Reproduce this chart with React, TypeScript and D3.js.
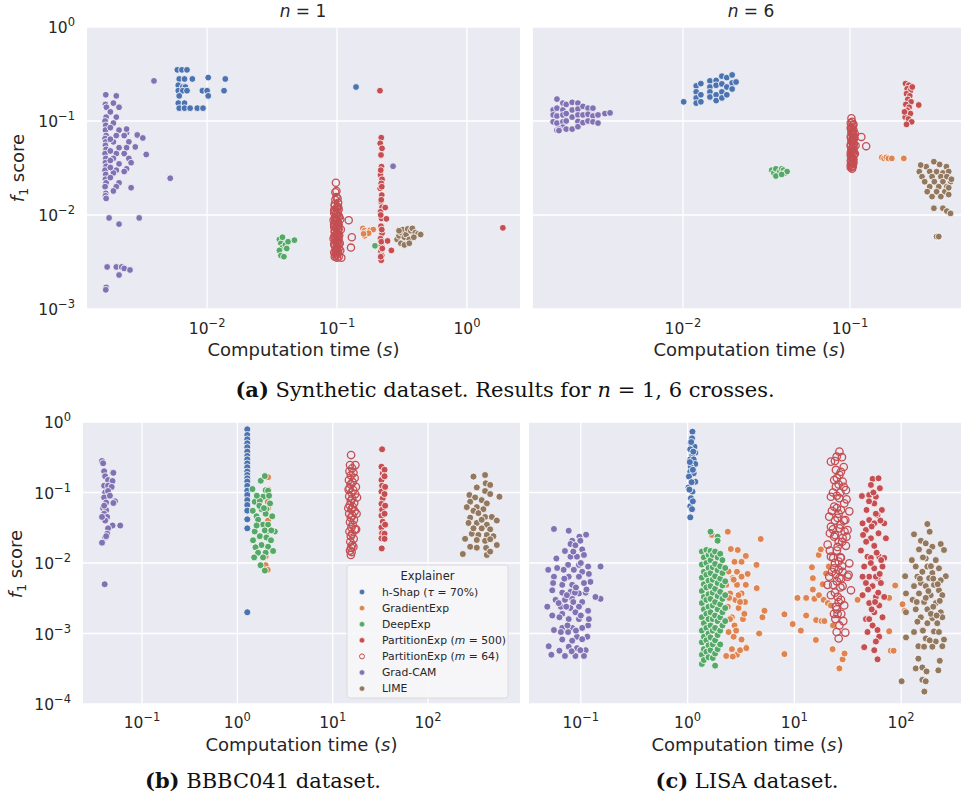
import React from "react";
import * as d3 from "d3";

type Pt = [number, number]; // [computation time (s), f1 score]

// ---------- colours ----------
const BLUE = "#4C72B0";
const ORANGE = "#DD8452";
const GREEN = "#55A868";
const RED = "#C44E52";
const PURPLE = "#8172B3";
const BROWN = "#937860";

const LEGEND_LABELS = [
  "h-Shap (τ = 70%)",
  "GradientExp",
  "DeepExp",
  "PartitionExp (m = 500)",
  "PartitionExp (m = 64)",
  "Grad-CAM",
  "LIME",
];
const LEGEND_COLORS = [BLUE, ORANGE, GREEN, RED, RED, PURPLE, BROWN];
const LEGEND_HOLLOW = [false, false, false, false, true, false, false];

// ---------- (a) synthetic, n = 1 ----------
const synth1HShap: Pt[] = [
  [0.0059, 0.35], [0.0064, 0.35], [0.007, 0.35], [0.0061, 0.28], [0.0067, 0.28], [0.0077, 0.28],
  [0.0102, 0.29], [0.0138, 0.28], [0.006, 0.24], [0.0065, 0.23], [0.0068, 0.23], [0.006, 0.21],
  [0.0065, 0.21], [0.007, 0.21], [0.0092, 0.21], [0.01, 0.21], [0.0135, 0.21], [0.0061, 0.185],
  [0.0102, 0.185], [0.006, 0.155], [0.0067, 0.155], [0.0061, 0.137], [0.0067, 0.137],
  [0.0074, 0.137], [0.0084, 0.137], [0.0093, 0.137], [0.14, 0.23],
];
const synth1Gradient: Pt[] = [
  [0.158, 0.0072], [0.163, 0.0068], [0.17, 0.0065], [0.18, 0.0069], [0.19, 0.007],
  [0.163, 0.006], [0.175, 0.0064], [0.16, 0.0063],
];
const synth1Deep: Pt[] = [
  [0.036, 0.0055], [0.037, 0.005], [0.038, 0.0045], [0.036, 0.0042], [0.037, 0.0037],
  [0.039, 0.0036], [0.04, 0.0048], [0.042, 0.0052], [0.047, 0.0054], [0.038, 0.0058],
  [0.041, 0.0044], [0.196, 0.0047],
];
const synth1Part500: Pt[] = [
  [0.219, 0.0665], [0.215, 0.0579], [0.222, 0.0512], [0.218, 0.0435], [0.22, 0.0327],
  [0.216, 0.0267], [0.222, 0.024], [0.219, 0.0217], [0.215, 0.0192], [0.221, 0.0163],
  [0.218, 0.0139], [0.222, 0.0121], [0.216, 0.0108], [0.22, 0.0092], [0.218, 0.0076],
  [0.222, 0.0064], [0.216, 0.0056], [0.22, 0.0047], [0.218, 0.0041], [0.221, 0.0037],
  [0.219, 0.0033], [0.217, 0.03], [0.221, 0.02], [0.219, 0.0145], [0.217, 0.01],
  [0.221, 0.007], [0.219, 0.0052], [0.223, 0.0044], [0.217, 0.0036], [0.24, 0.0091],
  [0.245, 0.0053], [0.262, 0.0042], [0.235, 0.012], [0.214, 0.21], [1.89, 0.0073],
];
const synth1Part64: Pt[] = [
  [0.098, 0.022], [0.097, 0.0175], [0.099, 0.018], [0.101, 0.015], [0.096, 0.013], [0.1, 0.012],
  [0.103, 0.0115], [0.097, 0.011], [0.095, 0.0105], [0.1, 0.01], [0.104, 0.0095], [0.098, 0.009],
  [0.094, 0.0088], [0.101, 0.0085], [0.097, 0.008], [0.103, 0.0078], [0.095, 0.0075],
  [0.099, 0.0072], [0.102, 0.0069], [0.096, 0.0066], [0.1, 0.0063], [0.104, 0.0061],
  [0.097, 0.0058], [0.094, 0.0056], [0.101, 0.0054], [0.099, 0.0051], [0.103, 0.0049],
  [0.096, 0.0047], [0.1, 0.0045], [0.098, 0.0043], [0.102, 0.0041], [0.095, 0.004],
  [0.1, 0.0038], [0.097, 0.0037], [0.103, 0.0036], [0.108, 0.0035], [0.106, 0.0042],
  [0.105, 0.005], [0.107, 0.007], [0.106, 0.009], [0.123, 0.0088], [0.13, 0.0058], [0.128, 0.0045],
  [0.096, 0.0125], [0.102, 0.0122], [0.099, 0.0118], [0.095, 0.0112], [0.101, 0.0108],
  [0.098, 0.0102], [0.103, 0.0098], [0.096, 0.0093], [0.1, 0.0089], [0.097, 0.0086],
  [0.102, 0.0082], [0.095, 0.0079], [0.101, 0.0076], [0.098, 0.0073], [0.103, 0.0071],
  [0.096, 0.0068], [0.1, 0.0065], [0.098, 0.0062], [0.102, 0.006], [0.095, 0.0059],
  [0.099, 0.0057], [0.103, 0.0055], [0.097, 0.0053], [0.101, 0.005], [0.095, 0.0049],
  [0.099, 0.0046], [0.103, 0.0044], [0.097, 0.0042], [0.101, 0.004], [0.098, 0.0039],
  [0.096, 0.0036], [0.1, 0.0035], [0.099, 0.0155], [0.097, 0.0145], [0.102, 0.0135],
];
const synth1GradCam: Pt[] = [
  [0.00166, 0.19], [0.00165, 0.15], [0.00167, 0.11], [0.00164, 0.1], [0.00166, 0.09],
  [0.00165, 0.08], [0.00167, 0.07], [0.00164, 0.065], [0.00166, 0.06], [0.00165, 0.055],
  [0.00167, 0.05], [0.00164, 0.045], [0.00166, 0.04], [0.00165, 0.036], [0.00167, 0.033],
  [0.00164, 0.03], [0.00166, 0.027], [0.00165, 0.024], [0.00167, 0.022], [0.00164, 0.02],
  [0.00166, 0.017], [0.00165, 0.016], [0.00167, 0.015], [0.00168, 0.14],
  [0.002, 0.185], [0.0019, 0.155], [0.0021, 0.14], [0.002, 0.11], [0.0019, 0.095], [0.0021, 0.08],
  [0.002, 0.07], [0.0019, 0.06], [0.0021, 0.052], [0.002, 0.045], [0.0019, 0.04], [0.0021, 0.035],
  [0.002, 0.03], [0.0019, 0.028], [0.0021, 0.022], [0.002, 0.02], [0.0019, 0.018],
  [0.0018, 0.125], [0.0018, 0.085], [0.0018, 0.064], [0.0018, 0.048], [0.0018, 0.038],
  [0.0018, 0.032], [0.0018, 0.025],
  [0.0024, 0.075], [0.0023, 0.07], [0.0025, 0.06], [0.0024, 0.052], [0.0023, 0.045],
  [0.0025, 0.04], [0.0024, 0.031], [0.0023, 0.029], [0.0029, 0.071], [0.0032, 0.066],
  [0.0028, 0.053], [0.0034, 0.044], [0.0026, 0.0195], [0.0024, 0.082], [0.0026, 0.036],
  [0.0039, 0.267], [0.0052, 0.0246], [0.27, 0.033],
  [0.00176, 0.0093], [0.003, 0.0093], [0.0021, 0.008], [0.0017, 0.0028], [0.002, 0.0028],
  [0.0022, 0.0028], [0.0023, 0.0027], [0.00255, 0.0026], [0.0021, 0.0023], [0.00167, 0.0017],
  [0.00166, 0.0016],
];
const synth1Lime: Pt[] = [
  [0.29, 0.0055], [0.3, 0.006], [0.31, 0.0065], [0.32, 0.007], [0.33, 0.0058], [0.34, 0.0062],
  [0.35, 0.0071], [0.36, 0.0055], [0.37, 0.0068], [0.38, 0.0072], [0.4, 0.0065], [0.42, 0.0063],
  [0.31, 0.005], [0.33, 0.0048], [0.36, 0.005], [0.39, 0.0058], [0.44, 0.0062], [0.3, 0.0068],
];

// ---------- (a) synthetic, n = 6 ----------
const synth6HShap: Pt[] = [
  [0.0101, 0.16], [0.012, 0.236], [0.012, 0.204], [0.012, 0.176], [0.012, 0.155],
  [0.0128, 0.25], [0.0128, 0.19], [0.0128, 0.16], [0.0145, 0.267], [0.0145, 0.23], [0.0145, 0.204],
  [0.0145, 0.18], [0.0158, 0.27], [0.0158, 0.24], [0.0158, 0.19], [0.0158, 0.165], [0.0171, 0.3],
  [0.0171, 0.248], [0.0171, 0.204], [0.0171, 0.176], [0.0183, 0.29], [0.0183, 0.23], [0.0183, 0.19],
  [0.0197, 0.309], [0.0197, 0.254], [0.0197, 0.219], [0.0208, 0.26],
];
const synth6Gradient: Pt[] = [
  [0.155, 0.041], [0.16, 0.04], [0.165, 0.041], [0.17, 0.04], [0.178, 0.04], [0.21, 0.04],
];
const synth6Deep: Pt[] = [
  [0.034, 0.03], [0.035, 0.028], [0.036, 0.031], [0.037, 0.027], [0.038, 0.029], [0.039, 0.031],
  [0.04, 0.03], [0.041, 0.028], [0.042, 0.029], [0.036, 0.026], [0.039, 0.027],
];
const synth6Part500: Pt[] = [
  [0.215, 0.25], [0.225, 0.24], [0.22, 0.22], [0.23, 0.21], [0.218, 0.195], [0.228, 0.185],
  [0.222, 0.17], [0.232, 0.16], [0.216, 0.15], [0.226, 0.14], [0.22, 0.13], [0.23, 0.12],
  [0.214, 0.11], [0.224, 0.105], [0.234, 0.098], [0.218, 0.092], [0.236, 0.23], [0.212, 0.125],
  [0.258, 0.148],
];
const synth6Part64: Pt[] = [
  [0.102, 0.107], [0.101, 0.095], [0.104, 0.09], [0.101, 0.085], [0.105, 0.08], [0.102, 0.076],
  [0.104, 0.072], [0.101, 0.068], [0.106, 0.065], [0.102, 0.062], [0.104, 0.059], [0.101, 0.056],
  [0.105, 0.053], [0.102, 0.05], [0.104, 0.048], [0.101, 0.046], [0.106, 0.044], [0.102, 0.042],
  [0.104, 0.04], [0.101, 0.038], [0.105, 0.036], [0.102, 0.035], [0.104, 0.033], [0.101, 0.032],
  [0.103, 0.031], [0.117, 0.0677], [0.125, 0.054], [0.107, 0.073], [0.108, 0.055], [0.107, 0.045],
  [0.103, 0.098], [0.105, 0.092], [0.103, 0.086], [0.1015, 0.082], [0.104, 0.078], [0.1025, 0.074],
  [0.1055, 0.07], [0.1015, 0.066], [0.104, 0.063], [0.1025, 0.06], [0.1055, 0.057], [0.101, 0.054],
  [0.103, 0.052], [0.105, 0.049], [0.102, 0.047], [0.104, 0.045], [0.101, 0.043], [0.103, 0.041],
  [0.105, 0.039], [0.102, 0.037], [0.104, 0.0355], [0.101, 0.034], [0.103, 0.0325],
];
const synth6GradCam: Pt[] = [
  [0.00167, 0.131], [0.00167, 0.116], [0.00167, 0.098], [0.00176, 0.171], [0.00176, 0.137],
  [0.00176, 0.113], [0.00176, 0.095], [0.00176, 0.08], [0.00191, 0.155], [0.00191, 0.131],
  [0.00191, 0.116], [0.00191, 0.098], [0.00191, 0.086], [0.002, 0.15], [0.002, 0.12], [0.002, 0.1],
  [0.002, 0.082], [0.00217, 0.158], [0.00217, 0.131], [0.00217, 0.11], [0.00217, 0.082],
  [0.00235, 0.155], [0.00235, 0.134], [0.00235, 0.116], [0.00235, 0.099], [0.00235, 0.087],
  [0.00252, 0.143], [0.00252, 0.116], [0.00252, 0.096], [0.0027, 0.137], [0.0027, 0.118],
  [0.0027, 0.1], [0.00289, 0.137], [0.00289, 0.113], [0.00289, 0.098], [0.0031, 0.116],
  [0.0031, 0.095], [0.00341, 0.12], [0.00366, 0.122], [0.00181, 0.082], [0.00181, 0.079],
];
const synth6Lime: Pt[] = [
  [0.318, 0.0369], [0.344, 0.0345], [0.378, 0.0327], [0.286, 0.0327], [0.26, 0.0289], [0.3, 0.029],
  [0.33, 0.0289], [0.36, 0.028], [0.39, 0.029], [0.27, 0.0256], [0.31, 0.0256], [0.35, 0.0256],
  [0.38, 0.0256], [0.28, 0.0226], [0.32, 0.0226], [0.36, 0.0226], [0.4, 0.0226], [0.3, 0.02],
  [0.34, 0.02], [0.38, 0.02], [0.29, 0.0177], [0.33, 0.0177], [0.37, 0.0177], [0.31, 0.0157],
  [0.35, 0.0157], [0.39, 0.0165], [0.318, 0.0118], [0.36, 0.0118], [0.38, 0.011], [0.4, 0.0104],
  [0.33, 0.0059], [0.34, 0.0059], [0.265, 0.034], [0.39, 0.0195], [0.405, 0.024],
];

// ---------- (b) BBBC041 ----------
const bbbcHShap: Pt[] = [
  [1.27, 0.787], [1.27, 0.654], [1.27, 0.568], [1.27, 0.499], [1.27, 0.438], [1.27, 0.38],
  [1.27, 0.33], [1.27, 0.295], [1.27, 0.259], [1.27, 0.228], [1.27, 0.198], [1.27, 0.177],
  [1.27, 0.159], [1.27, 0.143], [1.27, 0.124], [1.27, 0.106], [1.27, 0.092], [1.27, 0.078],
  [1.27, 0.0665], [1.27, 0.0553], [1.27, 0.0416], [1.27, 0.031], [1.27, 0.002],
];
const bbbcGradient: Pt[] = [
  [2.1, 0.165], [2.08, 0.074], [2.1, 0.06], [2.1, 0.04], [1.98, 0.0125], [1.98, 0.0093],
  [2.08, 0.008], [2.12, 0.11], [2.05, 0.028],
];
const bbbcDeep: Pt[] = [
  [1.76, 0.147], [1.94, 0.171], [1.98, 0.108], [1.44, 0.112], [2.1, 0.106], [1.86, 0.087],
  [1.52, 0.074], [1.72, 0.076], [2.02, 0.058], [1.45, 0.055], [1.79, 0.058], [1.59, 0.046],
  [1.98, 0.05], [2.32, 0.046], [1.65, 0.041], [1.86, 0.035], [2.1, 0.035], [1.52, 0.028],
  [1.94, 0.029], [2.47, 0.028], [1.72, 0.024], [2.02, 0.023], [1.46, 0.021], [1.79, 0.018],
  [2.1, 0.017], [1.55, 0.0167], [1.65, 0.014], [1.98, 0.014], [2.37, 0.0148], [1.86, 0.012],
  [1.75, 0.0093], [1.94, 0.0078], [2.27, 0.029], [1.59, 0.034], [1.7, 0.065], [2.2, 0.07],
  [1.6, 0.09], [2.15, 0.09], [1.9, 0.06], [2.25, 0.021], [1.5, 0.012],
];
const bbbcPart500: Pt[] = [
  [33, 0.41], [32.5, 0.232], [33.5, 0.187], [32.5, 0.15], [33, 0.125], [32.5, 0.103],
  [33.5, 0.083], [32.5, 0.069], [33, 0.057], [32.5, 0.047], [33.5, 0.0385], [32.5, 0.032],
  [33, 0.0264], [32.5, 0.0224], [32.7, 0.0161], [35, 0.21], [35, 0.17], [35.5, 0.12],
  [35, 0.095], [35.5, 0.065], [35, 0.05], [35.5, 0.035], [35, 0.026], [35, 0.022],
];
const bbbcPart64: Pt[] = [
  [15.6, 0.34], [17.3, 0.245], [15.2, 0.245], [16, 0.22], [15, 0.2], [16.5, 0.19], [15.5, 0.175],
  [17, 0.16], [14.8, 0.15], [16.2, 0.14], [15.4, 0.13], [17.5, 0.12], [15, 0.115], [16.4, 0.108],
  [15.7, 0.1], [17.2, 0.095], [14.9, 0.088], [16, 0.082], [15.5, 0.076], [16.8, 0.071],
  [15.1, 0.066], [16.3, 0.062], [15.8, 0.058], [17, 0.054], [14.9, 0.05], [16.1, 0.047],
  [15.5, 0.044], [16.7, 0.041], [15.2, 0.038], [16.2, 0.035], [15.7, 0.032], [17.1, 0.03],
  [15, 0.028], [16, 0.026], [15.5, 0.024], [16.6, 0.022], [15.3, 0.02], [16, 0.018],
  [15.6, 0.0165], [15.2, 0.015], [15.8, 0.0143], [15.5, 0.013], [18, 0.085], [17.8, 0.05],
  [14.6, 0.06], [14.7, 0.11], [17.6, 0.03], [16.5, 0.017],
];
const bbbcGradCam: Pt[] = [
  [0.038, 0.28], [0.039, 0.26], [0.04, 0.2], [0.049, 0.19], [0.041, 0.17], [0.044, 0.15],
  [0.049, 0.145], [0.04, 0.125], [0.044, 0.125], [0.048, 0.12], [0.041, 0.1], [0.044, 0.105],
  [0.052, 0.075], [0.04, 0.085], [0.042, 0.072], [0.039, 0.06], [0.042, 0.056], [0.04, 0.05],
  [0.043, 0.045], [0.049, 0.034], [0.059, 0.034], [0.041, 0.04], [0.044, 0.031], [0.043, 0.026],
  [0.041, 0.023], [0.038, 0.0194], [0.042, 0.024], [0.038, 0.045], [0.04, 0.065], [0.046, 0.09],
  [0.05, 0.071], [0.05, 0.19], [0.0405, 0.005],
];
const bbbcLime: Pt[] = [
  [300, 0.168], [397, 0.177], [403, 0.135], [449, 0.128], [325, 0.118], [397, 0.105], [449, 0.095],
  [562, 0.087], [272, 0.092], [312, 0.085], [366, 0.078], [277, 0.074], [414, 0.07], [255, 0.062],
  [325, 0.062], [381, 0.058], [300, 0.055], [338, 0.051], [277, 0.044], [397, 0.045], [467, 0.045],
  [527, 0.04], [266, 0.037], [325, 0.037], [414, 0.035], [366, 0.031], [449, 0.03], [288, 0.026],
  [338, 0.025], [414, 0.025], [486, 0.024], [245, 0.022], [325, 0.0212], [397, 0.0206],
  [449, 0.0217], [277, 0.017], [325, 0.0165], [407, 0.0164], [527, 0.018], [232, 0.0134],
  [414, 0.013], [449, 0.0145], [300, 0.031], [366, 0.041],
];

// ---------- (c) LISA ----------
const lisaHShap: Pt[] = [
  [1.11, 0.73], [1.1, 0.586], [1.075, 0.498], [1.16, 0.447], [1.06, 0.41], [1.18, 0.367],
  [1.1, 0.33], [1.06, 0.295], [1.14, 0.295], [1.18, 0.254], [1.07, 0.232], [1.06, 0.197],
  [1.14, 0.188], [1.03, 0.168], [1.18, 0.142], [1.02, 0.118], [1.11, 0.103], [1.075, 0.083],
  [1.06, 0.064], [1.1, 0.058], [1.06, 0.0444], [1.12, 0.21], [1.09, 0.14], [1.05, 0.27],
  [1.13, 0.38], [1.08, 0.52], [1.04, 0.11], [1.12, 0.075],
];
const lisaGradient: Pt[] = [
  [2.38, 0.0278], [4.84, 0.0219], [1.69, 0.025], [2.54, 0.0158], [2.95, 0.0153], [3.51, 0.0126],
  [2.75, 0.0104], [3.2, 0.0104], [4.42, 0.0094], [2.42, 0.0076], [2.9, 0.0075], [3.65, 0.007],
  [2.65, 0.0061], [3.2, 0.0064], [2.3, 0.0049], [2.9, 0.0049], [3.51, 0.0049], [4.44, 0.0044],
  [2.5, 0.0037], [3.2, 0.0037], [2.8, 0.003], [3.45, 0.0028], [2.38, 0.0024], [3, 0.0023],
  [5.25, 0.0021], [5.02, 0.0017], [2.6, 0.0017], [3.3, 0.0016], [2.75, 0.0013], [2.42, 0.00105],
  [2.7, 0.0009], [3.2, 0.00082], [4.68, 0.001], [3.55, 0.00064], [2.6, 0.0006], [2.9, 0.0005],
  [2.3, 0.00048], [3.1, 0.00058], [2.5, 0.0016], [3.1, 0.0028], [2.65, 0.00047], [3.55, 0.00062],
  [2.7, 0.0058], [3.0, 0.0035], [2.45, 0.0032], [3.4, 0.0019], [2.85, 0.0011],
  [8.07, 0.00187], [8.07, 0.00051], [9.64, 0.00136], [10.7, 0.0032], [11.5, 0.0011], [12.9, 0.0032],
  [12.9, 0.0018], [14.6, 0.0087], [14.9, 0.0061], [14.9, 0.0042], [15.4, 0.0031], [15.9, 0.00081],
  [16, 0.00155], [16.9, 0.013], [17, 0.0035], [17.7, 0.0156], [18, 0.0015], [18.4, 0.005],
  [18.8, 0.003], [19.1, 0.0015], [19.8, 0.0071], [20.6, 0.0027], [21, 0.0089], [22, 0.0025],
  [22.8, 0.0006], [23, 0.0013], [26.4, 0.00032], [28.3, 0.00043], [29.5, 0.00052], [39.1, 0.003],
  [77.3, 0.0032], [77.3, 0.00108], [80, 0.00057], [85, 0.00057], [88, 0.0048], [103, 0.0026],
  [108, 0.0021],
];
const lisaDeep: Pt[] = [
  [1.36, 0.0145], [1.36, 0.0095], [1.36, 0.0062], [1.36, 0.004], [1.36, 0.0027], [1.36, 0.0017],
  [1.36, 0.0011], [1.36, 0.00075], [1.36, 0.0005], [1.36, 0.00037],
  [1.42, 0.012], [1.42, 0.0075], [1.42, 0.005], [1.42, 0.0033], [1.42, 0.0022], [1.42, 0.0014],
  [1.42, 0.0009], [1.42, 0.0006], [1.42, 0.00042],
  [1.5, 0.0153], [1.5, 0.01], [1.5, 0.0068], [1.5, 0.0045], [1.5, 0.003], [1.5, 0.0019],
  [1.5, 0.0012], [1.5, 0.0008], [1.5, 0.00055],
  [1.57, 0.013], [1.57, 0.0085], [1.57, 0.0056], [1.57, 0.0036], [1.57, 0.0024], [1.57, 0.0016],
  [1.57, 0.001], [1.57, 0.00068], [1.57, 0.00046],
  [1.64, 0.0278], [1.64, 0.0148], [1.64, 0.011], [1.64, 0.0072], [1.64, 0.0047], [1.64, 0.0031],
  [1.64, 0.002], [1.64, 0.0013], [1.64, 0.00088], [1.64, 0.00058],
  [1.72, 0.013], [1.72, 0.0087], [1.72, 0.0058], [1.72, 0.0038], [1.72, 0.0025], [1.72, 0.0016],
  [1.72, 0.0011], [1.72, 0.0007], [1.72, 0.00045],
  [1.81, 0.0145], [1.81, 0.0097], [1.81, 0.0065], [1.81, 0.0043], [1.81, 0.0028], [1.81, 0.0018],
  [1.81, 0.0012], [1.81, 0.0008], [1.81, 0.00052], [1.81, 0.00035],
  [1.91, 0.0236], [1.91, 0.0207], [1.91, 0.012], [1.91, 0.0079], [1.91, 0.0052], [1.91, 0.0034],
  [1.91, 0.0022], [1.91, 0.0015], [1.91, 0.00095], [1.91, 0.0006],
  [2.02, 0.0135], [2.02, 0.009], [2.02, 0.006], [2.02, 0.0039], [2.02, 0.0026], [2.02, 0.0017],
  [2.02, 0.0011], [2.02, 0.0007],
  [2.12, 0.011], [2.12, 0.0072], [2.12, 0.0048], [2.12, 0.0031], [2.12, 0.002], [2.12, 0.0013],
  [2.25, 0.0085], [2.25, 0.0055], [2.25, 0.0035], [2.25, 0.0023], [2.25, 0.0015],
];
const lisaPart500: Pt[] = [
  [54, 0.156], [61.4, 0.159], [52.1, 0.128], [63.2, 0.115], [42.9, 0.089], [50.2, 0.092],
  [58, 0.087], [56, 0.07], [47.4, 0.0565], [66, 0.0565], [60.1, 0.048], [50.2, 0.0407],
  [43.5, 0.0365], [56, 0.0365], [69.4, 0.0365], [46.8, 0.0294], [61.4, 0.0264], [52.1, 0.0224],
  [72, 0.0224], [42, 0.015], [56, 0.0175], [48.4, 0.0123], [62.3, 0.0123], [69.4, 0.0118],
  [45.1, 0.0089], [56, 0.0084], [66.9, 0.0089], [50.2, 0.0064], [60.1, 0.0061], [46.8, 0.0052],
  [64.6, 0.0052], [54, 0.0047], [43.5, 0.0035], [58, 0.0033], [69.4, 0.0033], [50.2, 0.0027],
  [62.3, 0.0025], [56, 0.002], [46.8, 0.0016], [66.9, 0.0017], [54, 0.0013], [60.1, 0.00112],
  [48.4, 0.00105], [62.3, 0.0009], [45.1, 0.00064], [56, 0.00058], [58, 0.00077], [60.1, 0.00043],
  [50.2, 0.0016], [58, 0.0064], [43.5, 0.0064], [52.1, 0.0118], [55, 0.1], [50, 0.075],
  [58, 0.05], [53, 0.033], [64, 0.04], [47, 0.02], [59, 0.014], [52, 0.01], [63, 0.007],
  [49, 0.0042], [57, 0.0028], [53, 0.0022], [61, 0.0038], [65, 0.011], [44, 0.025],
];
const lisaPart64: Pt[] = [
  [26.4, 0.38], [24.9, 0.322], [27.9, 0.317], [22, 0.274], [27.3, 0.197], [26.4, 0.178],
  [23.6, 0.15], [28.3, 0.143], [24.5, 0.121], [30.4, 0.108], [22, 0.087], [26.4, 0.083],
  [30.8, 0.08], [23.6, 0.063], [27.3, 0.0565], [32.7, 0.054], [21.2, 0.0454], [25.4, 0.0436],
  [30, 0.0407], [22, 0.0327], [26.4, 0.031], [31.5, 0.0294], [23.6, 0.0236], [28.3, 0.0226],
  [20.5, 0.0182], [25.4, 0.0169], [30.4, 0.0175], [22, 0.0123], [27.3, 0.0118], [32.7, 0.0099],
  [23.6, 0.0084], [28.3, 0.0075], [21.2, 0.0064], [26.4, 0.0061], [31.5, 0.0064], [23.1, 0.0049],
  [28.3, 0.0047], [22, 0.0035], [27.3, 0.003], [24.5, 0.0024], [29.3, 0.0025], [25.4, 0.0019],
  [24.2, 0.0016], [28.7, 0.0015], [26.4, 0.0013], [24.9, 0.00105], [30, 0.00103], [26, 0.00085],
  [32.2, 0.0068], [33.9, 0.0041], [20.5, 0.0049], [23.1, 0.0118], [29.3, 0.07], [24.5, 0.209],
  [21.5, 0.0264], [30.8, 0.0236], [24, 0.04], [26, 0.05], [25, 0.06], [27, 0.035], [24, 0.025],
  [26, 0.02], [25, 0.015], [27, 0.012], [24, 0.01], [26, 0.008], [25, 0.0055], [27, 0.0045],
  [24, 0.0038], [26, 0.0028], [25, 0.0022], [28, 0.009], [23, 0.1], [26, 0.13], [25, 0.09],
  [29, 0.04], [23, 0.03], [28, 0.02], [24.5, 0.007], [27.5, 0.006], [25.5, 0.0033], [23.5, 0.0019],
  [27.5, 0.0019], [24, 0.28], [29, 0.23], [25, 0.16], [29, 0.12], [27, 0.1], [22.5, 0.055],
  [29.5, 0.028], [21.5, 0.015], [26, 0.0105], [22.5, 0.0075],
];
const lisaGradCam: Pt[] = [
  [0.056, 0.0304], [0.077, 0.0287], [0.112, 0.0252], [0.097, 0.0236], [0.083, 0.0207],
  [0.099, 0.0207], [0.08, 0.0186], [0.089, 0.0178], [0.071, 0.0148], [0.059, 0.0116],
  [0.103, 0.0156], [0.08, 0.0123], [0.092, 0.0123], [0.107, 0.013], [0.076, 0.0094], [0.096, 0.0094],
  [0.117, 0.0089], [0.153, 0.0089], [0.0495, 0.008], [0.069, 0.008], [0.086, 0.008], [0.103, 0.0075],
  [0.119, 0.007], [0.056, 0.0064], [0.077, 0.0064], [0.096, 0.0064], [0.123, 0.0054], [0.055, 0.0052],
  [0.067, 0.0049], [0.083, 0.0049], [0.107, 0.0052], [0.054, 0.0041], [0.067, 0.0038], [0.08, 0.0039],
  [0.096, 0.0037], [0.111, 0.0038], [0.058, 0.003], [0.071, 0.003], [0.083, 0.0031], [0.103, 0.0028],
  [0.153, 0.0031], [0.065, 0.0024], [0.08, 0.0023], [0.096, 0.0024], [0.117, 0.0021], [0.067, 0.0019],
  [0.089, 0.002], [0.054, 0.0018], [0.063, 0.0017], [0.077, 0.0016], [0.096, 0.0016], [0.117, 0.0013],
  [0.056, 0.00112], [0.067, 0.0012], [0.083, 0.0012], [0.103, 0.0012], [0.065, 0.00105],
  [0.076, 0.00105], [0.092, 0.0009], [0.115, 0.0009], [0.067, 0.00082], [0.083, 0.00079],
  [0.103, 0.00083], [0.077, 0.00065], [0.092, 0.00062], [0.111, 0.00058], [0.05, 0.00066],
  [0.063, 0.00057], [0.071, 0.00048], [0.089, 0.00048], [0.107, 0.00048], [0.053, 0.0005],
  [0.082, 0.00056], [0.099, 0.00058], [0.119, 0.0016], [0.0485, 0.0024], [0.137, 0.0033],
  [0.073, 0.0024], [0.088, 0.0038], [0.07, 0.006], [0.09, 0.0045], [0.085, 0.0028], [0.1, 0.0018],
  [0.075, 0.0013], [0.09, 0.0011], [0.06, 0.0085], [0.1, 0.01], [0.085, 0.0145], [0.074, 0.0035],
  [0.113, 0.0042], [0.062, 0.0027],
];
const lisaLime: Pt[] = [
  [176, 0.0357], [132, 0.0255], [185, 0.0278], [153, 0.0207], [170, 0.019], [235, 0.0186],
  [196, 0.017], [147, 0.0156], [183, 0.0145], [252, 0.0153], [126, 0.011], [170, 0.0116],
  [211, 0.011], [137, 0.0089], [176, 0.0089], [226, 0.0084], [158, 0.0075], [196, 0.0072],
  [262, 0.0065], [109, 0.0065], [142, 0.0064], [183, 0.0061], [235, 0.0057], [153, 0.0052],
  [203, 0.0049], [132, 0.0047], [170, 0.0047], [226, 0.0041], [111, 0.0037], [147, 0.0037],
  [189, 0.0035], [243, 0.0035], [128, 0.003], [164, 0.0028], [211, 0.0027], [137, 0.0022],
  [176, 0.0022], [235, 0.002], [111, 0.002], [153, 0.0017], [196, 0.00165], [243, 0.0017],
  [142, 0.00147], [176, 0.0014], [218, 0.0014], [158, 0.00112], [203, 0.00107], [132, 0.00105],
  [226, 0.00105], [111, 0.00088], [170, 0.00085], [211, 0.00077], [252, 0.00082], [145, 0.00066],
  [164, 0.00065], [196, 0.00065], [243, 0.00066], [145, 0.00044], [230, 0.00041], [137, 0.00032],
  [158, 0.00033], [173, 0.00029], [223, 0.0003], [101, 0.00021], [158, 0.00022], [170, 0.00021],
  [165, 0.00015], [160, 0.012], [190, 0.009], [150, 0.006], [200, 0.006], [180, 0.004],
  [220, 0.005], [140, 0.0028], [200, 0.0024], [190, 0.0019], [160, 0.0011], [185, 0.0008],
  [215, 0.0018], [170, 0.0032], [230, 0.0029],
];

// ---------- axis limits and ticks ----------
const synthXLimN1: [number, number] = [0.00119, 2.56];
const synthXLimN6: [number, number] = [0.001265, 0.495];
const synthYLim: [number, number] = [1e-3, 1];
const bbbcXLim: [number, number] = [0.024, 923];
const lisaXLim: [number, number] = [0.0327, 405];
const realYLim: [number, number] = [1e-4, 1];
const synthXTicksN1 = [1e-2, 1e-1, 1];
const synthXTicksN6 = [1e-2, 1e-1];
const synthYTicks = [1e-3, 1e-2, 1e-1, 1];
const realXTicks = [1e-1, 1, 10, 100];
const realYTicks = [1e-4, 1e-3, 1e-2, 1e-1, 1];

const FONT = "'DejaVu Sans', sans-serif";
const SERIF = "'DejaVu Serif', 'Liberation Serif', serif";
const INK = "#262626";

type Series = { pts: Pt[]; color: string; hollow?: boolean };

type PanelSpec = {
  id: string;
  left: number;
  right: number;
  top: number;
  bottom: number;
  xLim: [number, number];
  yLim: [number, number];
  xTicks: number[];
  yTicks: number[];
  showYLabels: boolean;
  xTickBaseline: number;
  xLabelBaseline: number;
  series: Series[];
  r: number;
};

function seriesList(
  hshap: Pt[], grad: Pt[], deep: Pt[], p500: Pt[], p64: Pt[], gcam: Pt[], lime: Pt[]
): Series[] {
  return [
    { pts: hshap, color: BLUE },
    { pts: grad, color: ORANGE },
    { pts: deep, color: GREEN },
    { pts: p500, color: RED },
    { pts: p64, color: RED, hollow: true },
    { pts: gcam, color: PURPLE },
    { pts: lime, color: BROWN },
  ];
}

function expLabel(v: number) {
  const e = Math.round(Math.log10(v));
  return e < 0 ? "\u2212" + Math.abs(e) : String(e);
}

function PowerTick({ x, y, v, anchor }: { x: number; y: number; v: number; anchor: "middle" | "end" }) {
  return (
    <text x={x} y={y} textAnchor={anchor} fontFamily={FONT} fontSize={15.5} fill={INK}>
      10
      <tspan dy={-7} fontSize={11.5}>
        {expLabel(v)}
      </tspan>
    </text>
  );
}

function Panel({ p }: { p: PanelSpec }) {
  const x = d3.scaleLog().domain(p.xLim).range([p.left, p.right]);
  const y = d3.scaleLog().domain(p.yLim).range([p.bottom, p.top]);
  const cx = (p.left + p.right) / 2;
  return (
    <g>
      <defs>
        <clipPath id={`clip-${p.id}`}>
          <rect x={p.left} y={p.top} width={p.right - p.left} height={p.bottom - p.top} />
        </clipPath>
      </defs>
      <rect x={p.left} y={p.top} width={p.right - p.left} height={p.bottom - p.top} fill="#EAEAF2" />
      {p.xTicks.map((t) => (
        <line key={`gx${t}`} x1={x(t)} x2={x(t)} y1={p.top} y2={p.bottom} stroke="#fff" strokeWidth={1.3} />
      ))}
      {p.yTicks.map((t) => (
        <line key={`gy${t}`} x1={p.left} x2={p.right} y1={y(t)} y2={y(t)} stroke="#fff" strokeWidth={1.3} />
      ))}
      <g clipPath={`url(#clip-${p.id})`}>
        {p.series.map((s, si) =>
          s.pts.map((d, i) =>
            s.hollow ? (
              <circle key={`${si}-${i}`} cx={x(d[0])} cy={y(d[1])} r={p.r + 0.2} fill="none" stroke={s.color} strokeWidth={1.3} />
            ) : (
              <circle key={`${si}-${i}`} cx={x(d[0])} cy={y(d[1])} r={p.r} fill={s.color} stroke="#fff" strokeWidth={0.8} />
            )
          )
        )}
      </g>
      {p.xTicks.map((t) => (
        <PowerTick key={`tx${t}`} x={x(t)} y={p.xTickBaseline} v={t} anchor="middle" />
      ))}
      {p.showYLabels &&
        p.yTicks.map((t) => <PowerTick key={`ty${t}`} x={p.left - 12} y={y(t) + 6} v={t} anchor="end" />)}
      <text x={cx} y={p.xLabelBaseline} textAnchor="middle" fontFamily={FONT} fontSize={18} fill={INK}>
        Computation time (<tspan fontStyle="italic">s</tspan>)
      </text>
    </g>
  );
}

function YLabel({ cx, cy }: { cx: number; cy: number }) {
  return (
    <text transform={`translate(${cx + 6},${cy}) rotate(-90)`} textAnchor="middle" fontFamily={FONT} fontSize={18} fill={INK}>
      <tspan fontStyle="italic">f</tspan>
      <tspan dy={4} fontSize={12.5}>1</tspan>
      <tspan dy={-4}> score</tspan>
    </text>
  );
}

function LegendLabel({ text }: { text: string }) {
  const parts = text.split(/(τ|m(?= =))/);
  return (
    <>
      {parts.map((s, i) =>
        s === "τ" || s === "m" ? (
          <tspan key={i} fontStyle="italic">{s}</tspan>
        ) : (
          <tspan key={i}>{s}</tspan>
        )
      )}
    </>
  );
}

function Legend({ x, y }: { x: number; y: number }) {
  const w = 161;
  const h = 133;
  return (
    <g>
      <rect x={x} y={y} width={w} height={h} rx={3} fill="#F7F7FA" fillOpacity={0.9} stroke="#D6D6D6" strokeWidth={0.8} />
      <text x={x + w / 2} y={y + 14.5} textAnchor="middle" fontFamily={FONT} fontSize={11.5} fill={INK}>
        Explainer
      </text>
      {LEGEND_LABELS.map((lab, i) => {
        const cy = y + 27 + i * 16.1;
        return (
          <g key={lab}>
            {LEGEND_HOLLOW[i] ? (
              <circle cx={x + 15} cy={cy} r={2.5} fill="none" stroke={LEGEND_COLORS[i]} strokeWidth={1} />
            ) : (
              <circle cx={x + 15} cy={cy} r={2.7} fill={LEGEND_COLORS[i]} stroke="#fff" strokeWidth={0.5} />
            )}
            <text x={x + 35} y={cy + 3.8} fontFamily={FONT} fontSize={10.8} fill={INK}>
              <LegendLabel text={lab} />
            </text>
          </g>
        );
      })}
    </g>
  );
}

const panels: PanelSpec[] = [
  {
    id: "n1", left: 87, right: 520, top: 27, bottom: 309, xLim: synthXLimN1, yLim: synthYLim,
    xTicks: synthXTicksN1, yTicks: synthYTicks, showYLabels: true, xTickBaseline: 334, xLabelBaseline: 356,
    series: seriesList(synth1HShap, synth1Gradient, synth1Deep, synth1Part500, synth1Part64, synth1GradCam, synth1Lime),
    r: 3.4,
  },
  {
    id: "n6", left: 533, right: 966, top: 27, bottom: 309, xLim: synthXLimN6, yLim: synthYLim,
    xTicks: synthXTicksN6, yTicks: synthYTicks, showYLabels: false, xTickBaseline: 334, xLabelBaseline: 356,
    series: seriesList(synth6HShap, synth6Gradient, synth6Deep, synth6Part500, synth6Part64, synth6GradCam, synth6Lime),
    r: 3.4,
  },
  {
    id: "bbbc", left: 83, right: 520, top: 422, bottom: 704, xLim: bbbcXLim, yLim: realYLim,
    xTicks: realXTicks, yTicks: realYTicks, showYLabels: true, xTickBaseline: 728, xLabelBaseline: 751,
    series: seriesList(bbbcHShap, bbbcGradient, bbbcDeep, bbbcPart500, bbbcPart64, bbbcGradCam, bbbcLime),
    r: 3.5,
  },
  {
    id: "lisa", left: 529, right: 966, top: 422, bottom: 704, xLim: lisaXLim, yLim: realYLim,
    xTicks: realXTicks, yTicks: realYTicks, showYLabels: false, xTickBaseline: 728, xLabelBaseline: 751,
    series: seriesList(lisaHShap, lisaGradient, lisaDeep, lisaPart500, lisaPart64, lisaGradCam, lisaLime),
    r: 3.5,
  },
];

export default function App() {
  return (
    <svg
      width={961}
      height={802}
      viewBox="0 0 961 802"
      style={{ position: "absolute", left: 0, top: 0, background: "#fff" }}
    >
      {panels.map((p) => (
        <Panel key={p.id} p={p} />
      ))}
      <text x={303} y={17} textAnchor="middle" fontFamily={FONT} fontSize={17} fill={INK}>
        <tspan fontStyle="italic">n</tspan> = 1
      </text>
      <text x={751} y={17} textAnchor="middle" fontFamily={FONT} fontSize={17} fill={INK}>
        <tspan fontStyle="italic">n</tspan> = 6
      </text>
      <YLabel cx={18} cy={168} />
      <YLabel cx={16} cy={564} />
      <Legend x={347} y={565} />
      <text x={505} y={397} textAnchor="middle" fontFamily={SERIF} fontSize={21} fill="#111">
        <tspan fontWeight="bold">(a)</tspan> Synthetic dataset. Results for <tspan fontStyle="italic">n</tspan> = 1, 6 crosses.
      </text>
      <text x={263} y={788} textAnchor="middle" fontFamily={SERIF} fontSize={21} fill="#111">
        <tspan fontWeight="bold">(b)</tspan> BBBC041 dataset.
      </text>
      <text x={747} y={788} textAnchor="middle" fontFamily={SERIF} fontSize={21} fill="#111">
        <tspan fontWeight="bold">(c)</tspan> LISA dataset.
      </text>
    </svg>
  );
}
